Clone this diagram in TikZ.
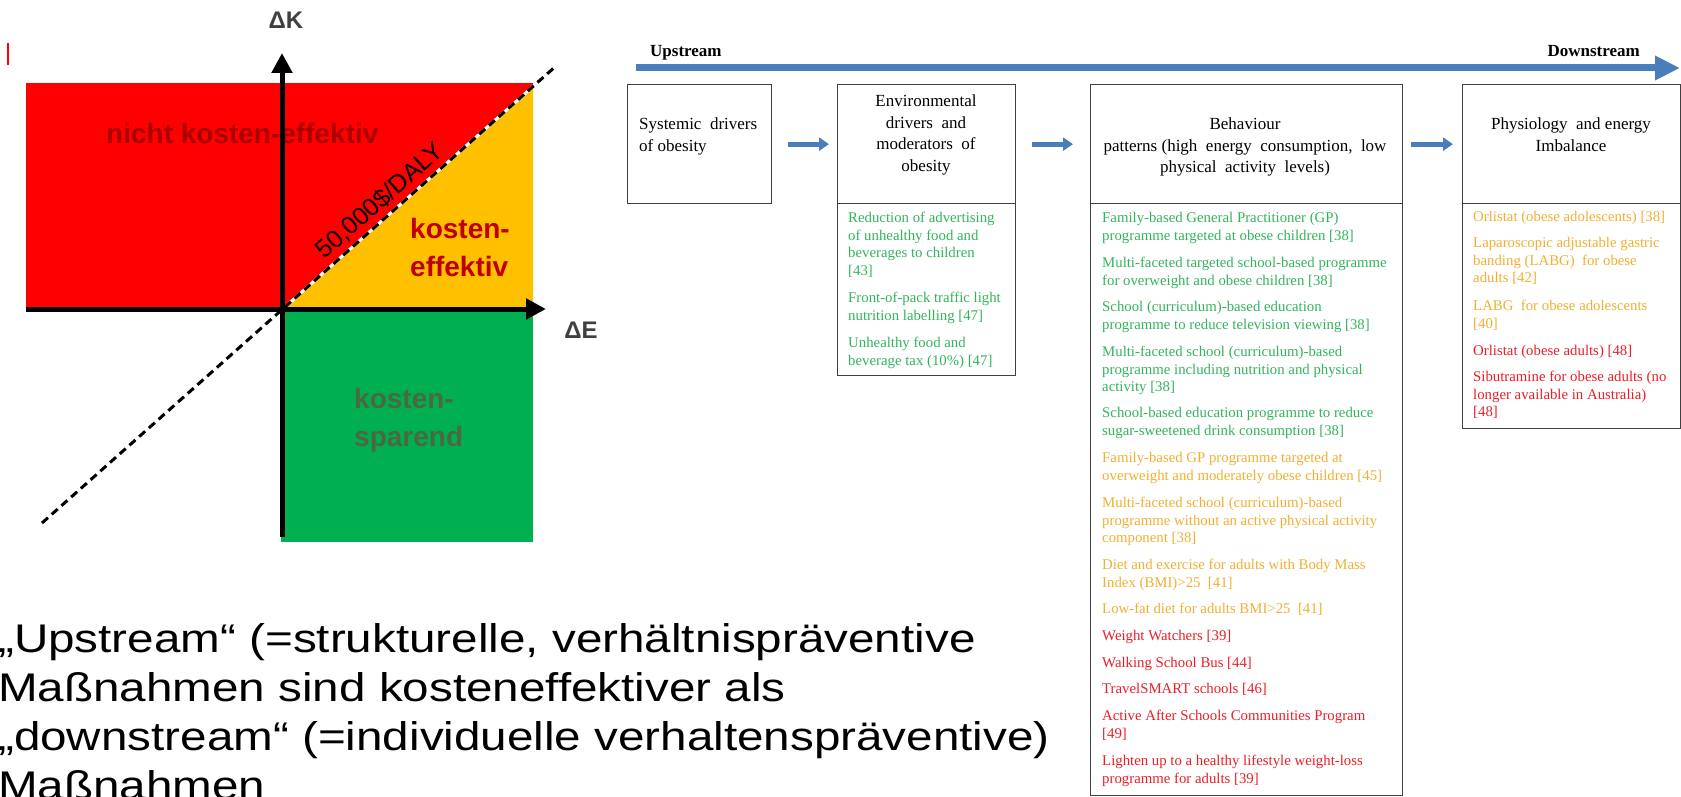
\documentclass[tikz,border=0pt]{standalone}
\usepackage{fontspec}
\setmainfont{Liberation Sans}
\newfontfamily\tnr{Liberation Serif}
\newfontfamily\widesans[FakeStretch=1.19]{Liberation Sans}
\usetikzlibrary{arrows.meta}
\definecolor{cred}{RGB}{255,0,0}
\definecolor{cyel}{RGB}{255,192,0}
\definecolor{cgrn}{RGB}{0,176,80}
\definecolor{dred}{RGB}{170,0,0}
\definecolor{kred}{RGB}{192,0,0}
\definecolor{dolive}{RGB}{75,105,65}
\definecolor{axgrey}{RGB}{64,64,64}
\definecolor{flowblue}{RGB}{74,126,187}
\definecolor{boxgrey}{RGB}{64,64,64}
\definecolor{tgreen}{RGB}{50,180,90}
\definecolor{torange}{RGB}{240,175,50}
\definecolor{tred}{RGB}{235,30,40}
\begin{document}
\begin{tikzpicture}[x=1pt,y=-1pt,
  axisarrow/.style={line width=5pt,-{Triangle[length=20pt,width=20pt]}},
  bigtxt/.style={inner sep=0pt,anchor=north west,align=left,font=\bfseries\fontsize{28}{38}\selectfont},
  axlabel/.style={inner sep=0pt,text=axgrey,font=\bfseries\fontsize{24}{24}\selectfont},
  box/.style={draw=boxgrey,line width=1.3pt,inner sep=0pt,anchor=north west},
  hdr/.style={inner sep=0pt,anchor=north,align=center,font=\tnr\fontsize{17}{21.5}\selectfont},
  itm/.style={inner sep=0pt,anchor=north west,align=left,font=\tnr\fontsize{14.8}{17.7}\selectfont},
  flow/.style={draw=flowblue,line width=5pt,-{Triangle[length=10pt,width=13pt]}},
  streamlbl/.style={inner sep=0pt,font=\tnr\bfseries\fontsize{17}{17}\selectfont}
]
\useasboundingbox (0,0) rectangle (1681,797);

% ---------- left: cost-effectiveness plane ----------
\coordinate (O) at (282,309);
\fill[cred] (26,83) rectangle (533,309);
\fill[cyel] (O) -- (533,309) -- (533,87) -- cycle;
\fill[cgrn] (281,309) rectangle (533,542);
\draw[cred,line width=2pt] (8,43) -- (8,65);

\coordinate (dl) at (42,523);
\coordinate (du) at (556,66);
\draw[white,line width=3pt] (dl) -- (du);
\draw[black,line width=3pt,dash pattern=on 8pt off 5pt] (dl) -- (du);

\node[bigtxt,text=dred,anchor=base west] (nk) at (106,144) {nicht kosten-effektiv};
\node[bigtxt,text=kred] (ke) at (410,212) {\strut kosten-\\effektiv};
\node[bigtxt,text=dolive] (ks) at (354,382) {\strut kosten-\\sparend};
\node[inner sep=0pt,rotate=41.5,font=\fontsize{25}{25}\selectfont] (daly) at (380,201) {50,000\$/DALY};

\coordinate (xs) at (26,309);
\coordinate (xe) at (546,309);
\coordinate (ys) at (282,537);
\coordinate (ye) at (282,53);
\draw[axisarrow] (xs) -- (xe);
\draw[axisarrow] (ys) -- (ye);
\node[axlabel] (dk) at (286,20) {ΔK};
\node[axlabel] (de) at (581,330) {ΔE};

% ---------- bottom-left statement ----------
\node[inner sep=0pt,anchor=north west,align=left,font=\widesans\fontsize{40}{49}\selectfont] (stmt) at (-2,618)
 {\strut „Upstream“ (=strukturelle, verhältnispräventive\\
  Maßnahmen sind kosteneffektiver als\\
  „downstream“ (=individuelle verhaltenspräventive)\\
  Maßnahmen};

% ---------- right: upstream/downstream flow ----------
\coordinate (up) at (636,68);
\coordinate (down) at (1680,68);
\draw[draw=flowblue,line width=7pt,-{Triangle[length=25pt,width=23pt]}] (up) -- (down);
\node[streamlbl,anchor=base west] (ul) at (650,57) {Upstream};
\node[streamlbl,anchor=base east] (dl2) at (1640,57) {Downstream};

\node[box,minimum width=144pt,minimum height=119pt] (b1) at (627,84) {};
\node[box,minimum width=178pt,minimum height=119pt] (b2h) at (837,84) {};
\node[box,minimum width=178pt,minimum height=172pt] (b2b) at (837,203) {};
\node[box,minimum width=312pt,minimum height=119pt] (b3h) at (1090,84) {};
\node[box,minimum width=312pt,minimum height=592pt] (b3b) at (1090,203) {};
\node[box,minimum width=218pt,minimum height=119pt] (b4h) at (1462,84) {};
\node[box,minimum width=218pt,minimum height=225pt] (b4b) at (1462,203) {};

\draw[flow,shorten <=16pt,shorten >=8pt] (b1.east) -- (b2h.west);
\draw[flow,shorten <=16pt,shorten >=17pt] (b2h.east) -- (b3h.west);
\draw[flow,shorten <=8pt,shorten >=9pt] (b3h.east) -- (b4h.west);

\node[hdr,anchor=north west,align=left] (h1) at (639,114.5) {\strut Systemic\ \ drivers\\of obesity};
\node[hdr] (h2) at (926,91.5) {\strut Environmental\\drivers\ \ and\\moderators\ \ of\\obesity};
\node[hdr] (h3) at (1245,114.5) {\strut Behaviour\\patterns (high\ \ energy\ \ consumption,\ \ low\\physical\ \ activity\ \ levels)};
\node[hdr] (h4) at (1571,114.5) {\strut Physiology\ \ and energy\\Imbalance};

% box 2 items
\node[itm,text=tgreen] (e1) at (848,210) {\strut Reduction of advertising\\of unhealthy food and\\beverages to children\\{[43]}};
\node[itm,text=tgreen] (e2) at (848,290) {\strut Front-of-pack traffic light\\nutrition labelling [47]};
\node[itm,text=tgreen] (e3) at (848,335) {\strut Unhealthy food and\\beverage tax (10\%) [47]};

% box 3 items
\node[itm,text=tgreen] (c1) at (1102,210) {\strut Family-based General Practitioner (GP)\\programme targeted at obese children [38]};
\node[itm,text=tgreen] (c2) at (1102,255) {\strut Multi-faceted targeted school-based programme\\for overweight and obese children [38]};
\node[itm,text=tgreen] (c3) at (1102,299) {\strut School (curriculum)-based education\\programme to reduce television viewing [38]};
\node[itm,text=tgreen] (c4) at (1102,344) {\strut Multi-faceted school (curriculum)-based\\programme including nutrition and physical\\activity [38]};
\node[itm,text=tgreen] (c5) at (1102,405) {\strut School-based education programme to reduce\\sugar-sweetened drink consumption [38]};
\node[itm,text=torange] (c6) at (1102,450) {\strut Family-based GP programme targeted at\\overweight and moderately obese children [45]};
\node[itm,text=torange] (c7) at (1102,495) {\strut Multi-faceted school (curriculum)-based\\programme without an active physical activity\\component [38]};
\node[itm,text=torange] (c8) at (1102,557) {\strut Diet and exercise for adults with Body Mass\\Index (BMI)>25\ \ [41]};
\node[itm,text=torange] (c9) at (1102,601) {\strut Low-fat diet for adults BMI>25\ \ [41]};
\node[itm,text=tred] (c10) at (1102,628) {\strut Weight Watchers [39]};
\node[itm,text=tred] (c11) at (1102,655) {\strut Walking School Bus [44]};
\node[itm,text=tred] (c12) at (1102,681) {\strut TravelSMART schools [46]};
\node[itm,text=tred] (c13) at (1102,708) {\strut Active After Schools Communities Program\\{[49]}};
\node[itm,text=tred] (c14) at (1102,753) {\strut Lighten up to a healthy lifestyle weight-loss\\programme for adults [39]};

% box 4 items
\node[itm,text=torange] (p1) at (1473,209) {\strut Orlistat (obese adolescents) [38]};
\node[itm,text=torange] (p2) at (1473,235) {\strut Laparoscopic adjustable gastric\\banding (LABG)\ \ for obese\\adults [42]};
\node[itm,text=torange] (p3) at (1473,298) {\strut LABG\ \ for obese adolescents\\{[40]}};
\node[itm,text=tred] (p4) at (1473,343) {\strut Orlistat (obese adults) [48]};
\node[itm,text=tred] (p5) at (1473,369) {\strut Sibutramine for obese adults (no\\longer available in Australia)\\{[48]}};
\end{tikzpicture}
\end{document}
